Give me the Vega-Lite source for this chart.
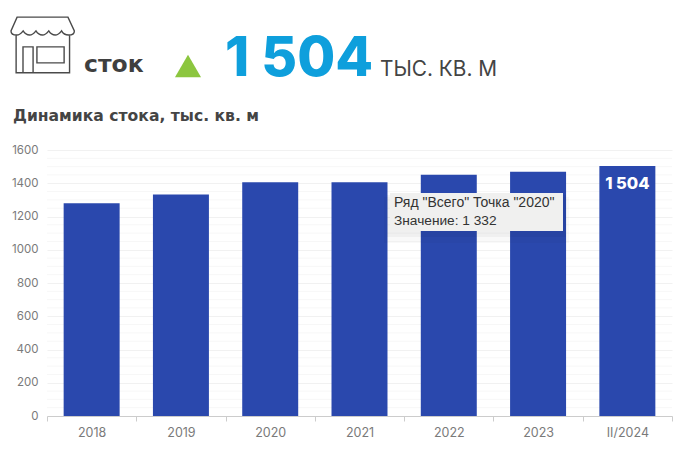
{"$schema":"https://vega.github.io/schema/vega-lite/v6.json","width":625,"height":266,"autosize":{"type":"none"},"padding":{"left":47,"top":150,"right":18,"bottom":34},"background":"#ffffff","config":{"view":{"stroke":null},"font":"Inter"},
"data":{"values":[{"year":"2018","value":1280},{"year":"2019","value":1332},{"year":"2020","value":1406},{"year":"2021","value":1406},{"year":"2022","value":1451},{"year":"2023","value":1469},{"year":"II/2024","value":1504,"label":"1 504"}]},
"layer":[
{"data":{"values":[{"g":50},{"g":100},{"g":150},{"g":250},{"g":300},{"g":350},{"g":450},{"g":500},{"g":550},{"g":650},{"g":700},{"g":750},{"g":850},{"g":900},{"g":950},{"g":1050},{"g":1100},{"g":1150},{"g":1250},{"g":1300},{"g":1350},{"g":1450},{"g":1500},{"g":1550}]},"mark":{"type":"rule","color":"#f7f7f7","strokeWidth":1},"encoding":{"y":{"field":"g","type":"quantitative","scale":{"domain":[0,1600]},"axis":{"title":null,"values":[0,200,400,600,800,1000,1200,1400,1600],"tickCount":9,"format":"d","labelFont":"Inter","labelFontSize":11.5,"labelColor":"#7a7a7a","labelPadding":9,"ticks":false,"domain":false,"grid":true,"gridColor":"#f1f1f1"}}}},
{"mark":{"type":"bar","color":"#2a48ad","width":{"band":0.627}},"encoding":{"x":{"field":"year","type":"ordinal","scale":{"paddingInner":0,"paddingOuter":0},"axis":{"title":null,"labelAngle":0,"labelFont":"Inter","labelFontSize":12.5,"labelColor":"#7a7a7a","labelPadding":5,"tickBand":"extent","tickColor":"#cccccc","tickSize":5,"domainColor":"#cccccc","grid":false}},"y":{"field":"value","type":"quantitative","scale":{"domain":[0,1600]},"axis":{"title":null,"values":[0,200,400,600,800,1000,1200,1400,1600],"tickCount":9,"format":"d","labelFont":"Inter","labelFontSize":11.5,"labelColor":"#7a7a7a","labelPadding":9,"ticks":false,"domain":false,"grid":true,"gridColor":"#f1f1f1"}}}},
{"transform":[{"filter":"datum.label"}],"mark":{"type":"text","color":"#ffffff","fontWeight":800,"fontSize":16.5,"font":"Inter","dy":18},"encoding":{"x":{"field":"year","type":"ordinal"},"y":{"field":"value","type":"quantitative"},"text":{"field":"label"}}},
{"data":{"values":[{"k":"shadow1"}]},"mark":{"type":"rect","color":"#000000","opacity":0.025},"encoding":{"x":{"value":337},"x2":{"value":522},"y":{"value":47},"y2":{"value":93}}},
{"data":{"values":[{"k":"shadow2"}]},"mark":{"type":"rect","color":"#000000","opacity":0.035},"encoding":{"x":{"value":340},"x2":{"value":519},"y":{"value":45},"y2":{"value":87}}},
{"data":{"values":[{"k":"box"}]},"mark":{"type":"rect","color":"#f0f0ef"},"encoding":{"x":{"value":343},"x2":{"value":516},"y":{"value":43},"y2":{"value":81}}},
{"data":{"values":[{"t":"Ряд \"Всего\" Точка \"2020\""}]},"mark":{"type":"text","align":"left","baseline":"alphabetic","font":"Liberation Sans","fontSize":14,"color":"#333333"},"encoding":{"x":{"value":347},"y":{"value":57},"text":{"field":"t"}}},
{"data":{"values":[{"t":"Значение: 1 332"}]},"mark":{"type":"text","align":"left","baseline":"alphabetic","font":"Liberation Sans","fontSize":13.7,"color":"#333333"},"encoding":{"x":{"value":347},"y":{"value":75},"text":{"field":"t"}}},
{"data":{"values":[{"t":"Динамика стока, тыс. кв. м"}]},"mark":{"type":"text","align":"left","baseline":"alphabetic","font":"DejaVu Sans","fontWeight":"bold","fontSize":15.6,"color":"#444444"},"encoding":{"x":{"value":-34},"y":{"value":-29},"text":{"field":"t"}}},
{"data":{"values":[{"t":"сток"}]},"mark":{"type":"text","align":"left","baseline":"alphabetic","font":"DejaVu Sans","fontWeight":"bold","fontSize":23.5,"color":"#3f3f3f"},"encoding":{"x":{"value":37},"y":{"value":-78},"text":{"field":"t"}}},
{"data":{"values":[{"t":"1 504"}]},"mark":{"type":"text","align":"left","baseline":"alphabetic","font":"Inter","fontWeight":800,"fontSize":55,"color":"#0e9fdc"},"encoding":{"x":{"value":178},"y":{"value":-74},"text":{"field":"t"}}},
{"data":{"values":[{"t":"ТЫС. КВ. М"}]},"mark":{"type":"text","align":"left","baseline":"alphabetic","font":"Inter","fontSize":20.8,"color":"#444444"},"encoding":{"x":{"value":333},"y":{"value":-74},"text":{"field":"t"}}},
{"data":{"values":[{"k":"up"}]},"mark":{"type":"point","shape":"triangle-up","filled":true,"color":"#8cc63f","opacity":1,"size":680},"encoding":{"x":{"value":141},"y":{"value":-84}}},
{"data":{"values":[{"k":"icon"}]},"mark":{"type":"point","filled":false,"opacity":1,"stroke":"#4a4a4a","strokeWidth":1.4,"size":4096,"shape":"M-0.81 -0.84L0.78 -0.84L0.98 -0.41Q0.98 -0.28 0.8 -0.28Q0.65 -0.28 0.58 -0.41Q0.48 -0.28 0.38 -0.28Q0.26 -0.28 0.18 -0.41Q0.08 -0.28 -0.02 -0.28Q-0.14 -0.28 -0.22 -0.41Q-0.32 -0.28 -0.42 -0.28Q-0.54 -0.28 -0.62 -0.41Q-0.72 -0.28 -0.82 -0.28Q-1 -0.28 -1 -0.41ZM-0.84 -0.28L-0.84 0.9L0.83 0.9L0.83 -0.28M-0.625 0.9L-0.625 0.09L-0.31 0.09L-0.31 0.9M-0.19 0.09L0.66 0.09L0.66 0.59L-0.19 0.59Z"},"encoding":{"x":{"value":-4},"y":{"value":-106}}}
]}
